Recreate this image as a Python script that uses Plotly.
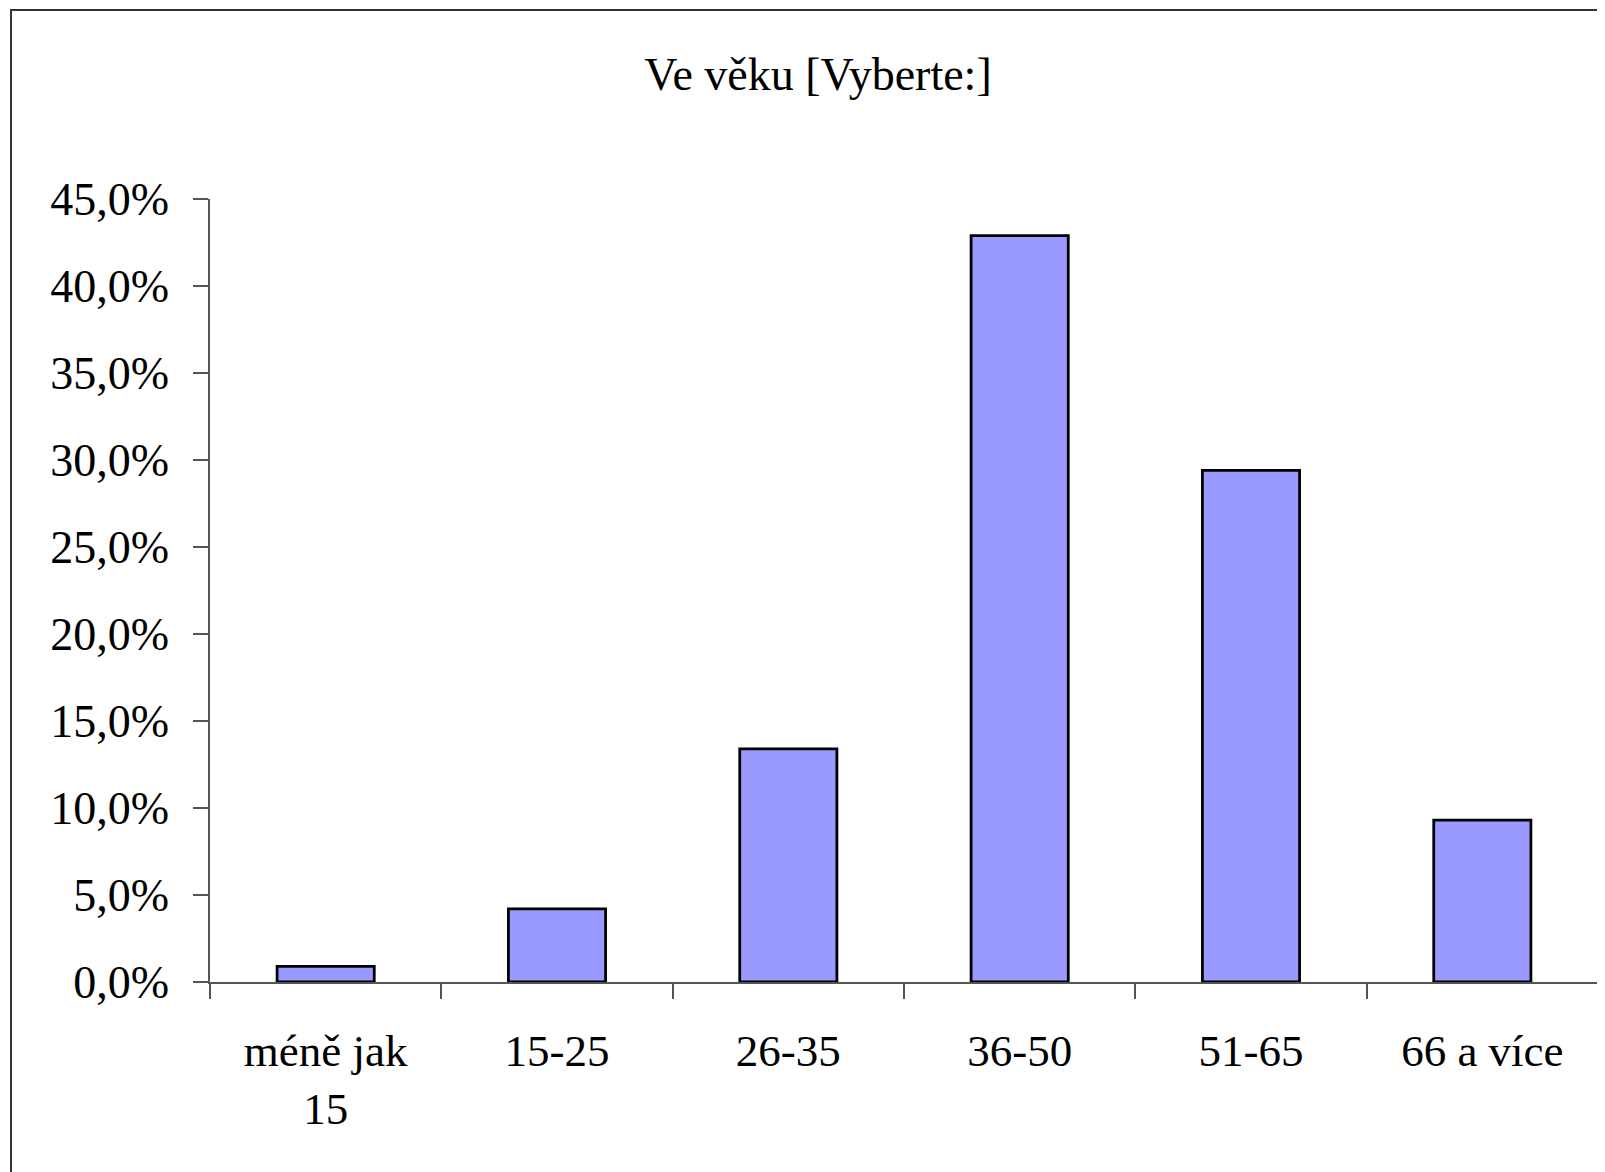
import plotly.graph_objects as go

categories = ["méně jak<br>15", "15-25", "26-35", "36-50", "51-65", "66 a více"]
values = [0.009, 0.042, 0.134, 0.429, 0.294, 0.093]
y_ticks = [0, 0.05, 0.10, 0.15, 0.20, 0.25, 0.30, 0.35, 0.40, 0.45]

FONT = "Liberation Serif, Times New Roman, serif"

fig = go.Figure()
fig.add_trace(go.Bar(
    x=categories, y=values,
    marker=dict(color="#9999FF", line=dict(color="#000000", width=2.8)),
))

OFF = 8  # default body margin of the page
W, H = 1605 - OFF, 1172 - OFF
L, R, T, B = 210 - OFF, 7, 199 - OFF, 190
pw, ph = W - L - R, H - T - B

def px(x):
    return (x - OFF - L) / pw

def py(y):
    return (H - B - (y - OFF)) / ph

fig.update_layout(
    width=W, height=H,
    margin=dict(l=L, r=R, t=T, b=B, pad=0),
    paper_bgcolor="white", plot_bgcolor="white",
    separators=", ",
    showlegend=False,
    bargap=0.58,
    font=dict(family=FONT, color="black", size=44),
    title=dict(text="Ve věku [Vyberte:]", x=px(818), xref="paper", xanchor="center",
               y=1 - (74 - OFF) / H, yanchor="middle",
               font=dict(family=FONT, size=46, color="black")),
    xaxis=dict(
        type="category", showline=True, linecolor="#555555", linewidth=1.5,
        ticks="outside", ticklen=15, tickcolor="#555555", tickwidth=1.5,
        tickson="boundaries", showgrid=False, zeroline=False,
        tickfont=dict(family=FONT, size=45, color="black"),
        ticklabelstandoff=28,
    ),
    yaxis=dict(
        range=[0, 0.45], tickvals=y_ticks, tickformat=".1%",
        showline=True, linecolor="#555555", linewidth=1.5,
        ticks="outside", ticklen=15, tickcolor="#555555", tickwidth=1.5,
        showgrid=False, zeroline=False,
        tickfont=dict(family=FONT, size=46, color="black"),
        ticklabelstandoff=15,
    ),
    shapes=[dict(type="rect", xref="paper", yref="paper",
                 x0=px(11), y0=py(1172 + 50), x1=px(1605 + 50), y1=py(10),
                 line=dict(color="#333333", width=2), fillcolor="rgba(0,0,0,0)", layer="below")],
)

fig.write_html("out.html")
